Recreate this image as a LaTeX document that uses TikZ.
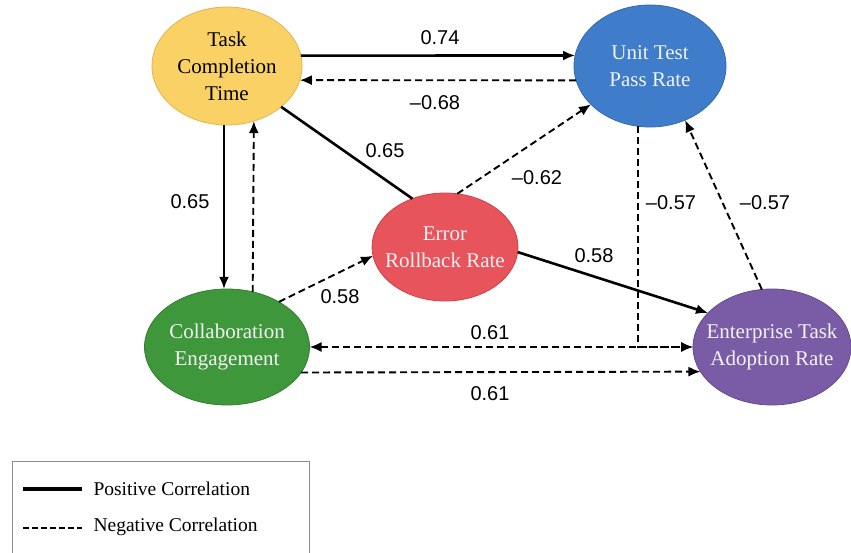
\documentclass[tikz,border=0pt]{standalone}
\usepackage{fontspec}
\setmainfont{Liberation Serif}
\newfontfamily\labfont{Liberation Sans}
\usetikzlibrary{shapes.geometric,arrows.meta}
\definecolor{tctc}{HTML}{F9D165}
\definecolor{tctd}{HTML}{E2B54A}
\definecolor{utpc}{HTML}{3F7CC9}
\definecolor{utpd}{HTML}{3569AE}
\definecolor{errc}{HTML}{E8545C}
\definecolor{errd}{HTML}{CF4149}
\definecolor{cec}{HTML}{3F973B}
\definecolor{ced}{HTML}{337E30}
\definecolor{etac}{HTML}{7A5CA6}
\definecolor{etad}{HTML}{67498F}
\begin{document}
\begin{tikzpicture}[x=1pt,y=-1pt,
  var/.style={ellipse, inner sep=0pt, outer sep=0pt, align=center, line width=0.8pt,
    font=\fontsize{21}{27}\selectfont, text=white!95!black},
  posline/.style={line width=2.6pt},
  posarr/.style={posline, -{Latex[length=12pt,width=10pt]}},
  negline/.style={line width=1.9pt, dash pattern=on 7pt off 4pt},
  negarr/.style={negline, -{Latex[length=12pt,width=10pt]}},
  lab/.style={font=\labfont\fontsize{20}{24}\selectfont},
  legtxt/.style={font=\fontsize{19.5}{23}\selectfont, anchor=west}]
\clip (0,0) rectangle (851,553);
\fill[white] (0,0) rectangle (851,553);

% variables
\node[var, fill=tctc, draw=tctd, text=black, minimum width=150pt, minimum height=118pt] (tct) at (227,66)
  {\makebox[0pt]{Task}\\\makebox[0pt]{Completion}\\\makebox[0pt]{Time}};
\node[var, fill=utpc, draw=utpd, minimum width=152pt, minimum height=122pt] (utp) at (650,66)
  {\makebox[0pt]{Unit Test}\\\makebox[0pt]{Pass Rate}};
\node[var, fill=errc, draw=errd, minimum width=146pt, minimum height=108pt] (err) at (445,247)
  {\makebox[0pt]{Error}\\\makebox[0pt]{Rollback Rate}};
\node[var, fill=cec, draw=ced, minimum width=165pt, minimum height=116pt] (ce) at (227,347)
  {\makebox[0pt]{Collaboration}\\\makebox[0pt]{Engagement}};
\node[var, fill=etac, draw=etad, minimum width=158pt, minimum height=116pt] (eta) at (772,347)
  {\makebox[0pt]{Enterprise Task}\\\makebox[0pt]{Adoption Rate}};

% connectors
\draw[posarr] (tct.8) -- (utp.172);
\draw[negarr] (utp.-169) -- (tct.-11);
\draw[posline] (tct.-37) -- (err.124);
\draw[negarr] (err.77) -- (utp.-147);
\draw[posarr] ([xshift=-3pt]tct.south) -- ([xshift=-3pt]ce.north);
\draw[negarr] (ce.65) -- (tct.-64);
\draw[negarr] (ce.41) -- (err.187);
\draw[posarr] (err.-4) -- (eta.152);
\draw[negarr] (utp.-101) |- (eta.west);
\draw[negline, {Latex[length=12pt,width=10pt]}-{Latex[length=12pt,width=10pt]}] (ce.east) -- (eta.west);
\draw[negarr] (ce.-19.4) -- (eta.-161);
\draw[negarr] (eta.100) -- (utp.-57);

% labels
\node[lab] (l1) at (440,38) {0.74};
\node[lab] (l2) at (435,103) {–0.68};
\node[lab] (l3) at (385,151) {0.65};
\node[lab] (l4) at (537,178) {–0.62};
\node[lab] (l5) at (190,202) {0.65};
\node[lab] (l6) at (340,297) {0.58};
\node[lab] (l7) at (594,256) {0.58};
\node[lab] (l8) at (671,203) {–0.57};
\node[lab] (l9) at (765,203) {–0.57};
\node[lab] (l10) at (490,333) {0.61};
\node[lab] (l11) at (490,394) {0.61};

% legend
\node[draw=black!45, line width=0.8pt, anchor=north west, minimum width=297pt, minimum height=120pt, inner sep=0pt] (legend) at (12,461) {};
\coordinate (p1) at (23,489);
\coordinate (p2) at (82,489);
\coordinate (n1) at (23,528);
\coordinate (n2) at (82,528);
\draw[line width=4pt] (p1) -- (p2);
\draw[line width=1.5pt, dash pattern=on 5.5pt off 3.5pt] (n1) -- (n2);
\node[legtxt] (lp) at (90,489) {Positive Correlation};
\node[legtxt] (ln) at (90,527) {Negative Correlation};
\end{tikzpicture}
\end{document}
